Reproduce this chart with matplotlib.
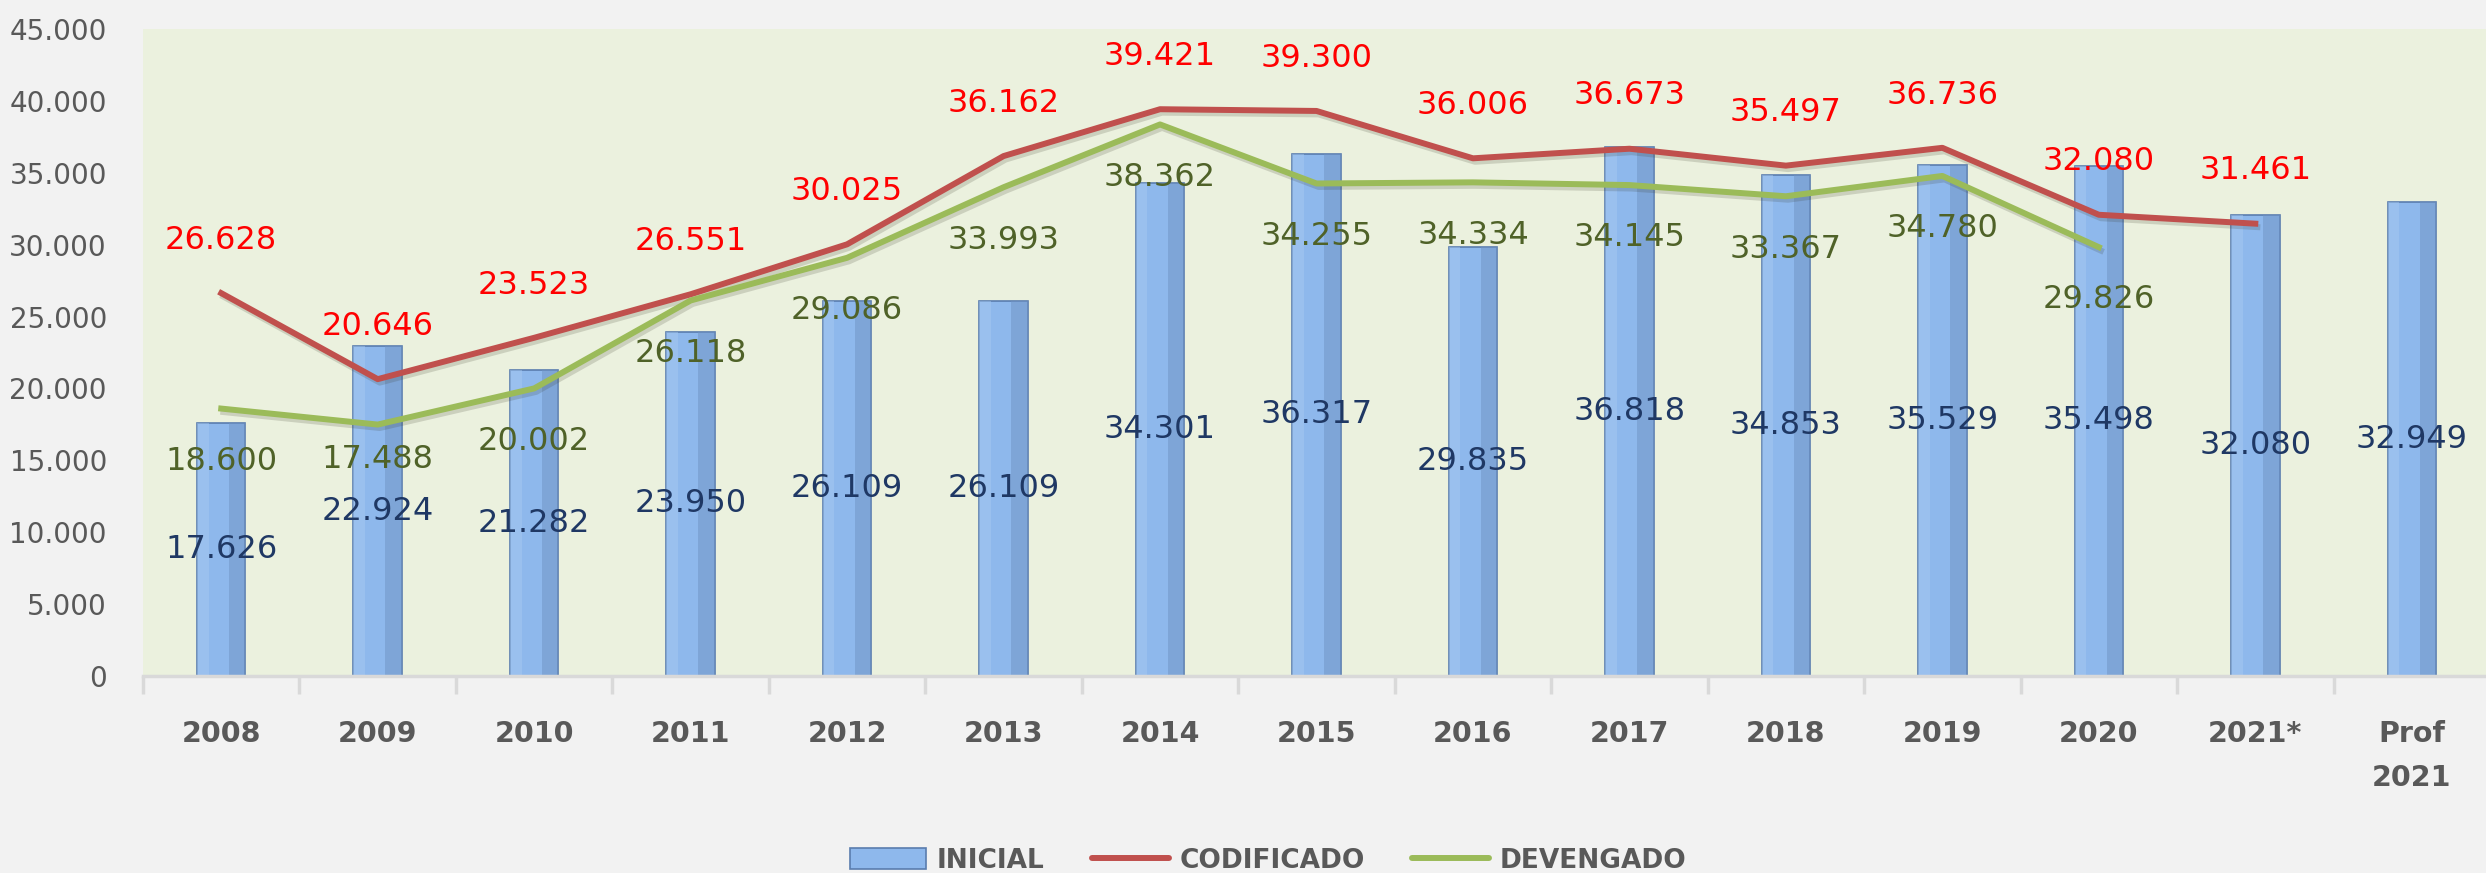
import numpy as np
import matplotlib.pyplot as plt
from matplotlib import patheffects as pe
from matplotlib.patches import Rectangle
from matplotlib.lines import Line2D
from matplotlib.ticker import FuncFormatter

# data (millones, shown with dot thousands separator)
years = ['2008', '2009', '2010', '2011', '2012', '2013', '2014', '2015',
         '2016', '2017', '2018', '2019', '2020', '2021*', 'Prof\n2021']
inicial = [17626, 22924, 21282, 23950, 26109, 26109, 34301, 36317,
           29835, 36818, 34853, 35529, 35498, 32080, 32949]
codificado = [26628, 20646, 23523, 26551, 30025, 36162, 39421, 39300,
              36006, 36673, 35497, 36736, 32080, 31461]
devengado = [18600, 17488, 20002, 26118, 29086, 33993, 38362, 34255,
             34334, 34145, 33367, 34780, 29826]


def miles(v):
    return f"{int(v):,}".replace(",", ".")


GRAY = '#595959'
fig = plt.figure(figsize=(24.86, 8.73), dpi=100, facecolor='#F2F2F2')
ax = fig.add_axes([143 / 2486, 197 / 873, 2347 / 2486, 647 / 873])
ax.set_facecolor('#EBF1DE')

x = np.arange(len(years))
bw = 0.31

# bars with a simple bevel look
bars = ax.bar(x, inicial, width=bw, color='#8EB8EC', edgecolor='#5A7DAE',
              linewidth=1.2, zorder=2)
ax.bar(x + bw * 0.5 - bw * 0.17, inicial, width=bw * 0.34, color='#6F93C4',
       alpha=0.5, linewidth=0, zorder=2.1)
ax.bar(x - bw * 0.5 + bw * 0.12, inicial, width=bw * 0.24, color='#A9CBF2',
       alpha=0.45, linewidth=0, zorder=2.1)

shadow = [pe.SimpleLineShadow(offset=(1.5, -2.5), alpha=0.18, shadow_color='#3a3a2a'),
          pe.Normal()]
xc = x[:len(codificado)]
xd = x[:len(devengado)]
ax.plot(xc, codificado, color='#C0504D', lw=4.3, zorder=3,
        solid_joinstyle='round', path_effects=shadow)
ax.plot(xd, devengado, color='#9BBB59', lw=4.3, zorder=3,
        solid_joinstyle='round', path_effects=shadow)

# data labels
for xi, v in zip(x, inicial):
    ax.text(xi, v / 2, miles(v), ha='center', va='center', fontsize=23,
            color='#1F3864', zorder=5)
for xi, v in zip(xc, codificado):
    ax.annotate(miles(v), (xi, v), xytext=(0, 38), textcoords='offset points',
                ha='center', va='center', fontsize=23, color='#FF0000', zorder=5)
nudge = {1: 13}
for i, (xi, v) in enumerate(zip(xd, devengado)):
    ax.annotate(miles(v), (xi, v), xytext=(0, -38 + nudge.get(i, 0)),
                textcoords='offset points', ha='center', va='center',
                fontsize=23, color='#4F6228', zorder=5)

# axes styling
ax.set_xlim(-0.5, len(years) - 0.5)
ax.set_ylim(0, 45000)
ax.set_yticks(np.arange(0, 45001, 5000))
ax.yaxis.set_major_formatter(FuncFormatter(lambda v, p: miles(v)))
ax.tick_params(axis='y', length=0, labelsize=20, labelcolor=GRAY, pad=26)

ax.set_xticks(np.arange(-0.5, len(years), 1.0))
ax.set_xticklabels([])
ax.set_xticks(x, minor=True)
ax.set_xticklabels(years, minor=True, fontsize=20.5, fontweight='bold',
                   color=GRAY, linespacing=1.7)
ax.tick_params(axis='x', which='major', length=13, width=2.5, color='#D9D9D9')
ax.tick_params(axis='x', which='minor', length=0, pad=32)

for s in ['top', 'right', 'left']:
    ax.spines[s].set_visible(False)
ax.spines['bottom'].set_color('#D9D9D9')
ax.spines['bottom'].set_linewidth(2.5)

handles = [Rectangle((0, 0), 1, 1, facecolor='#8EB8EC', edgecolor='#5A7DAE', lw=1.2),
           Line2D([], [], color='#C0504D', lw=4.3, solid_capstyle='round'),
           Line2D([], [], color='#9BBB59', lw=4.3, solid_capstyle='round')]
leg = fig.legend(handles, ['INICIAL', 'CODIFICADO', 'DEVENGADO'],
                 loc='lower center', bbox_to_anchor=(0.51, -0.028), ncol=3,
                 frameon=False, handlelength=2.9, handleheight=0.8,
                 handletextpad=0.4, columnspacing=1.8,
                 prop={'size': 19, 'weight': 'bold'})
for t in leg.get_texts():
    t.set_color(GRAY)

fig.savefig('out.png', dpi=100, facecolor=fig.get_facecolor())
